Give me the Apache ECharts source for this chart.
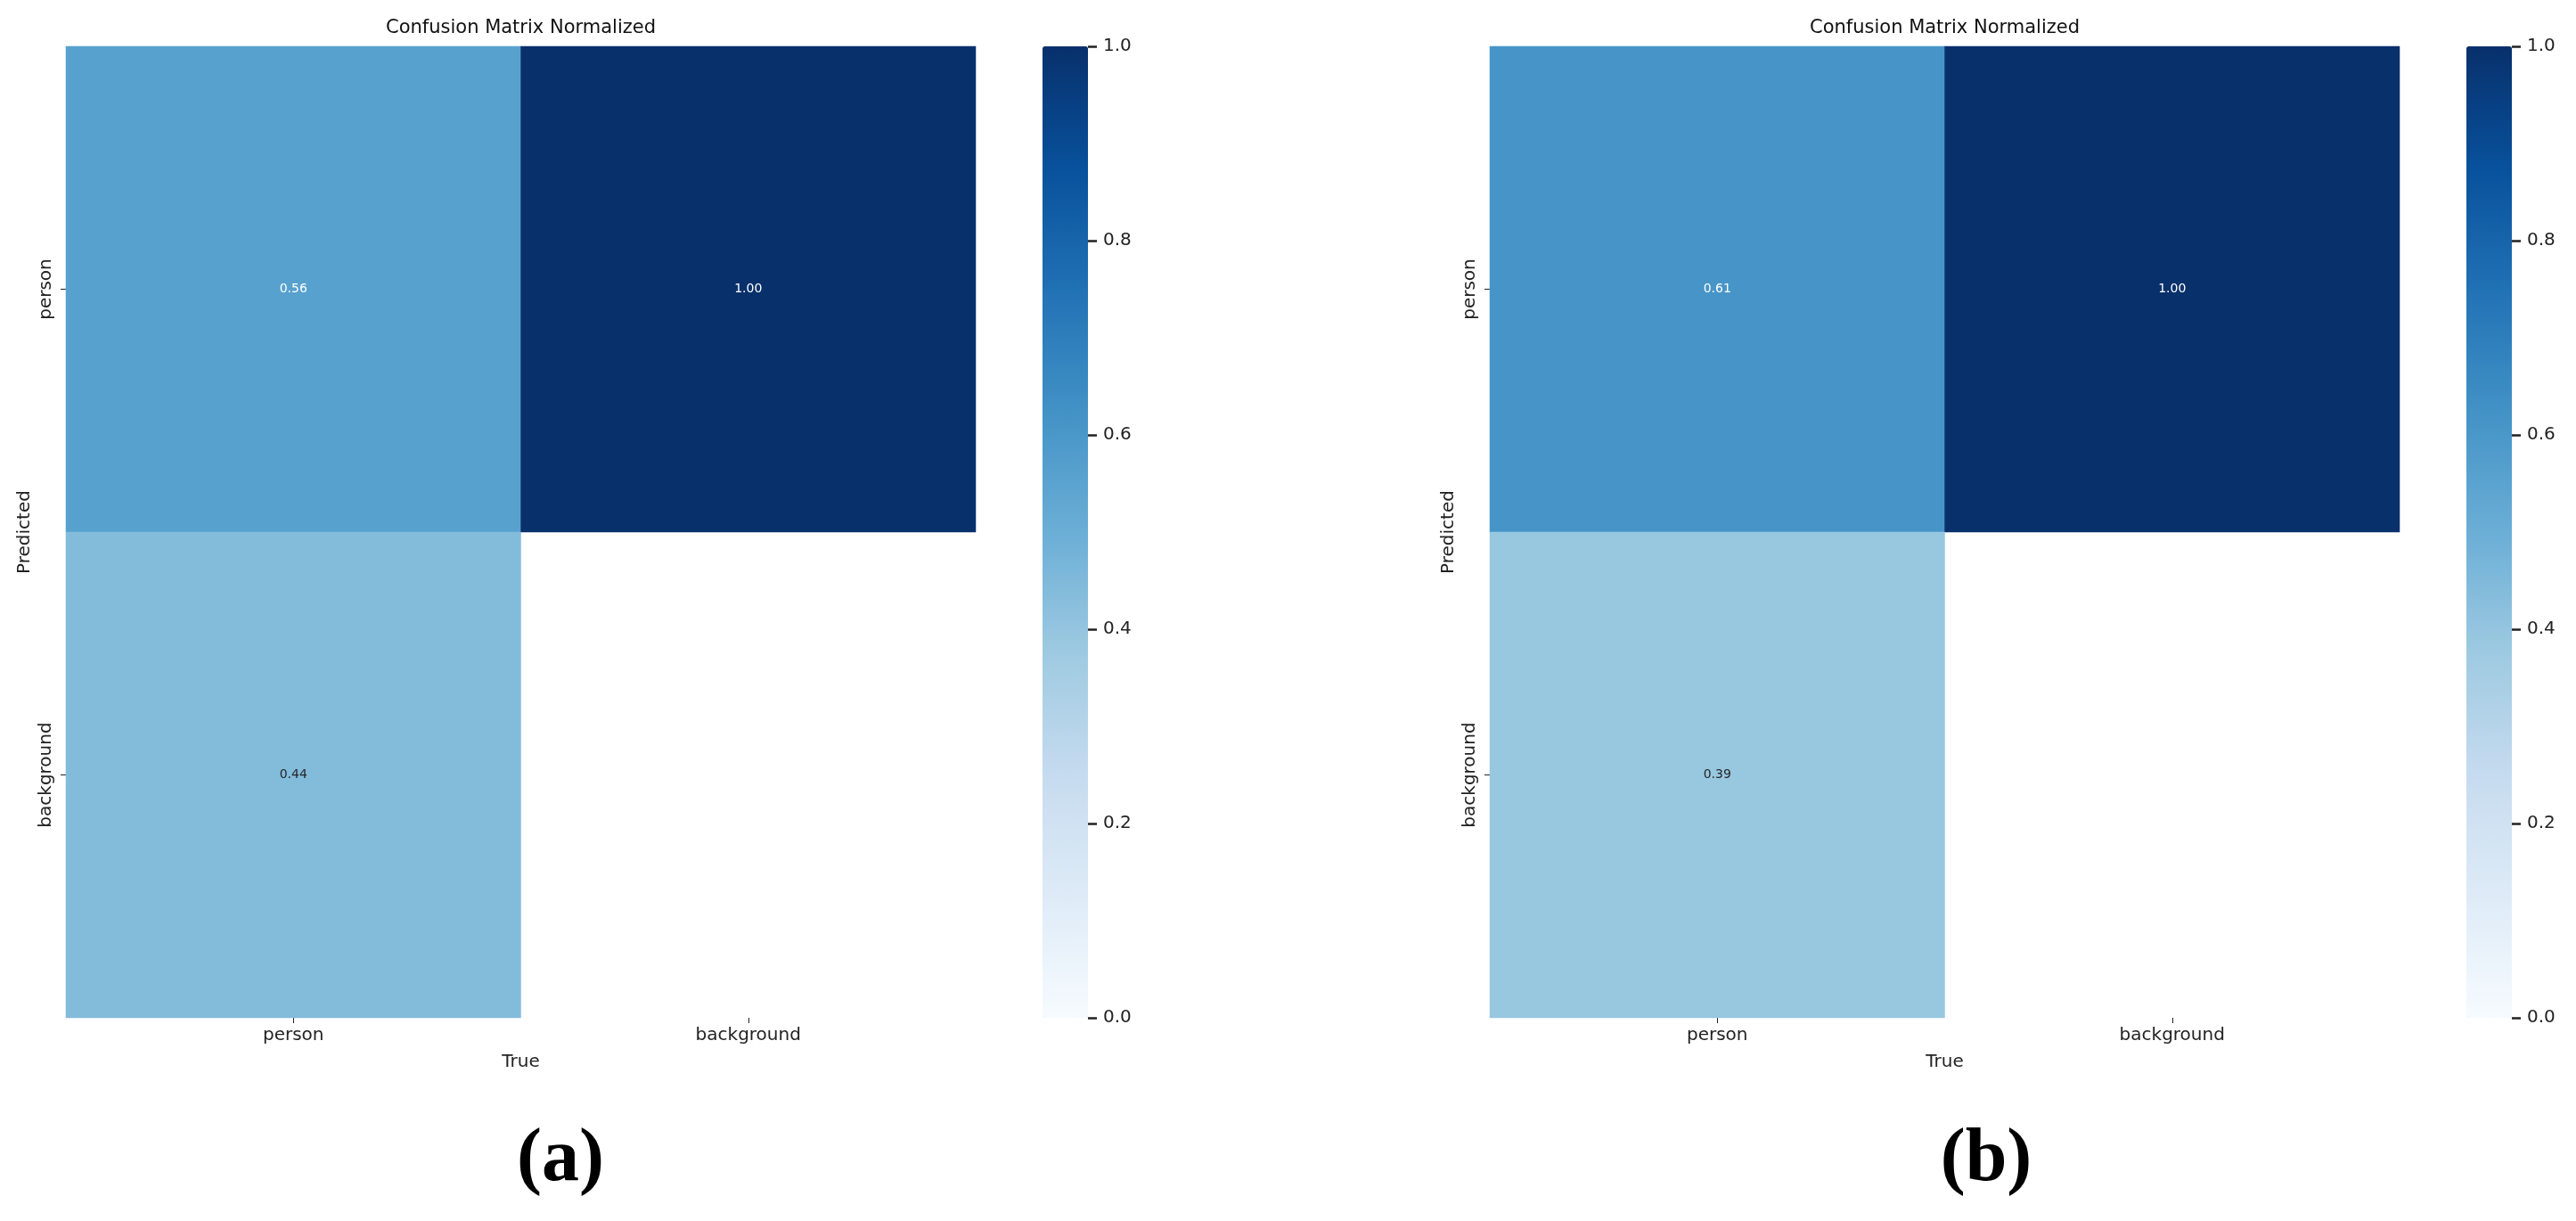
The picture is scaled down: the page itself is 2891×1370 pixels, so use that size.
<!DOCTYPE html>
<html>
<head>
<meta charset="utf-8">
<script src="https://cdn.jsdelivr.net/npm/echarts@6/dist/echarts.min.js"></script>
<style>
html,body{margin:0;padding:0;background:#fff;}
#c{width:2891px;height:1370px;}
</style>
</head>
<body>
<div id="c"></div>
<script>
// Data
const trueCats = ['person', 'background'];
const predCats = ['person', 'background'];
// rows = predicted (person, background), cols = true (person, background); null = blank cell
const matrixA = [[0.56, 1.00], [0.44, null]];
const matrixB = [[0.61, 1.00], [0.39, null]];
const panelLabels = ['(a)', '(b)'];
const titleText = 'Confusion Matrix Normalized';
const cbTicks = [0.0, 0.2, 0.4, 0.6, 0.8, 1.0];

const blues = ['#f7fbff','#deebf7','#c6dbef','#9ecae1','#6baed6','#4292c6','#2171b5','#08519c','#08306b'];
const FONT = 'DejaVu Sans';

function toData(m) {
  const out = [];
  m.forEach((row, r) => row.forEach((v, c) => {
    if (v === null) return;
    out.push({ value: [c, r, v], label: { color: v > 0.5 ? '#ffffff' : '#262626' } });
  }));
  return out;
}

const panels = [
  { left: 74, cbLeft: 1170, data: matrixA, label: panelLabels[0], labelX: 629 },
  { left: 1672, cbLeft: 2768, data: matrixB, label: panelLabels[1], labelX: 2229 }
];
const TOP = 52, W = 1021, H = 1090, CBW = 51;

const grid = [], xAxis = [], yAxis = [], series = [], visualMap = [], graphic = [];
panels.forEach((p, i) => {
  // heatmap grid
  grid.push({ left: p.left, top: TOP, width: W, height: H });
  const gi = grid.length - 1;
  xAxis.push({
    gridIndex: gi, type: 'category', data: trueCats, position: 'bottom',
    name: 'True', nameLocation: 'middle', nameGap: 40,
    nameTextStyle: { fontFamily: FONT, fontSize: 20, color: '#222' },
    axisLine: { show: false },
    axisTick: { show: true, alignWithLabel: true, length: 6, lineStyle: { color: '#222', width: 1 } },
    axisLabel: { fontFamily: FONT, fontSize: 20, color: '#222', margin: 10 },
    splitLine: { show: false }, splitArea: { show: false }
  });
  yAxis.push({
    gridIndex: gi, type: 'category', data: predCats, inverse: true,
    name: 'Predicted', nameLocation: 'middle', nameGap: 36, nameRotate: 90,
    nameTextStyle: { fontFamily: FONT, fontSize: 20, color: '#222' },
    axisLine: { show: false },
    axisTick: { show: true, alignWithLabel: true, length: 6, lineStyle: { color: '#222', width: 1 } },
    axisLabel: { fontFamily: FONT, fontSize: 20, color: '#222', rotate: 90, margin: 12 },
    splitLine: { show: false }, splitArea: { show: false }
  });
  series.push({
    type: 'heatmap', xAxisIndex: gi, yAxisIndex: gi,
    data: toData(p.data),
    label: { show: true, fontFamily: FONT, fontSize: 14, formatter: (d) => d.value[2].toFixed(2) },
    emphasis: { disabled: true }, silent: true
  });
  visualMap.push({
    type: 'continuous', seriesIndex: series.length - 1, min: 0, max: 1,
    left: p.cbLeft, top: TOP, itemWidth: CBW, itemHeight: H, padding: 0,
    text: null, showLabel: false, calculable: false, hoverLink: false, realtime: false,
    z: 1,
    inRange: { color: blues }, orient: 'vertical', dimension: 2
  });
  // colorbar axis grid
  grid.push({ left: p.cbLeft, top: TOP, width: CBW, height: H });
  const ci = grid.length - 1;
  xAxis.push({ gridIndex: ci, type: 'value', show: false, min: 0, max: 1,
    axisLine: { show: false }, axisTick: { show: false }, axisLabel: { show: false } });
  yAxis.push({
    gridIndex: ci, type: 'value', position: 'right', min: cbTicks[0], max: cbTicks[cbTicks.length - 1], interval: 0.2,
    z: 20,
    axisLine: { show: false, onZero: false },
    axisTick: { show: true, inside: false, length: 10, lineStyle: { color: '#222', width: 2.5 } },
    axisLabel: { fontFamily: FONT, fontSize: 20, color: '#222', margin: 17, formatter: (v) => v.toFixed(1) },
    splitLine: { show: false }
  });
  graphic.push({
    type: 'text', x: p.left + W / 2, y: 32,
    style: { text: titleText, fontFamily: FONT, fontSize: 21, fill: '#111', textAlign: 'center', textVerticalAlign: 'middle' }
  });
  graphic.push({
    type: 'text', x: p.labelX, y: 1302,
    style: { text: p.label, fontFamily: 'Liberation Serif', fontWeight: 'bold', fontSize: 84, fill: '#000', textAlign: 'center', textVerticalAlign: 'middle' }
  });
});

const chart = echarts.init(document.getElementById('c'), null, { renderer: 'canvas' });
chart.setOption({
  backgroundColor: '#ffffff',
  animation: false,
  grid, xAxis, yAxis, series, visualMap, graphic
});
</script>
</body>
</html>
